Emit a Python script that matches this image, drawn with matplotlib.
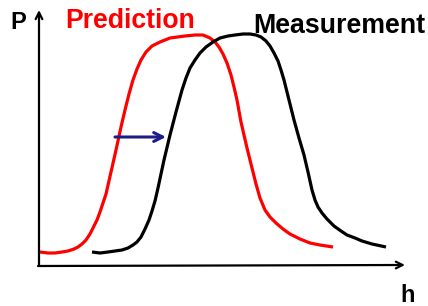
import matplotlib.pyplot as plt

# curve, in pixel units (y grows downward)
pred_h = [40, 48, 55, 62, 68, 74, 78, 82, 86, 90, 93, 97, 100, 103, 106, 111,
          116, 121, 125, 129, 133, 137, 141, 146, 152, 160, 170, 185, 195, 203,
          210, 215, 219, 223, 227, 231, 234, 237, 241, 247, 252, 256, 260, 265,
          270, 276, 283, 290, 300, 310, 320, 333]
pred_p = [252, 253, 253, 252, 251, 249, 247, 244, 240, 234, 228, 220, 212, 203,
          194, 172, 150, 127, 110, 94, 80, 69, 60, 52, 46, 42, 38, 36, 35, 35,
          38, 42, 47, 54, 63, 75, 87, 100, 122, 148, 168, 184, 198, 210,
          217, 223, 229, 234, 239, 243, 245, 247]

meas_h = [92, 100, 108, 115, 122, 128, 133, 137, 141, 145, 149, 152, 155, 158,
          161, 164, 170, 176, 182, 186, 190, 195, 200, 206, 213, 220, 228, 235,
          243, 250, 256, 261, 266, 270, 274, 278, 281, 284, 287, 290, 294, 299,
          304, 308, 312, 315, 318, 322, 327, 334, 341, 347, 355, 362, 372, 386]
meas_p = [252, 253, 252, 251, 250, 248, 245, 242, 237, 229, 220, 211, 201, 188,
          174, 160, 135, 112, 90, 78, 68, 60, 53, 47, 42, 38, 36, 35,
          34, 34, 35, 37, 41, 46, 53, 61, 70, 80, 92, 104, 120, 138,
          155, 172, 190, 200, 207, 213, 219, 226, 231, 235, 238, 241, 244, 247]

shift_start = (115, 137)
shift_end = (166, 137)

W, H = 428, 306

fig = plt.figure(figsize=(W / 100, H / 100), dpi=100)
ax = fig.add_axes([0, 0, 1, 1])
ax.set_xlim(0, W)
ax.set_ylim(H, 0)
ax.axis("off")

# axes arrows
ax.annotate("", xy=(39, 10), xytext=(39, 266),
            arrowprops=dict(arrowstyle="->", lw=1.6, color="black",
                            shrinkA=0, shrinkB=0, mutation_scale=12))
ax.annotate("", xy=(405, 265), xytext=(38, 266),
            arrowprops=dict(arrowstyle="->", lw=1.6, color="black",
                            shrinkA=0, shrinkB=0, mutation_scale=12))

ax.plot(pred_h, pred_p, color="#ff0000", lw=2.3, solid_capstyle="butt",
        solid_joinstyle="round")
ax.plot(meas_h, meas_p, color="black", lw=2.3, solid_capstyle="butt",
        solid_joinstyle="round")

ax.annotate("", xy=shift_end, xytext=shift_start,
            arrowprops=dict(arrowstyle="->", lw=2.2, color="#1c1c8c",
                            shrinkA=0, shrinkB=0, mutation_scale=16))

font = dict(family="Liberation Sans", fontweight="bold")
ax.text(10, 29, "P", fontsize=17, color="black", va="baseline", **font)
ax.text(65, 28, "Prediction", fontsize=19.2, color="#ff0000", va="baseline", **font)
ax.text(253, 33, "Measurement", fontsize=19.3, color="black", va="baseline", **font)
ax.text(400, 302, "h", fontsize=17, color="black", va="baseline", **font)

fig.savefig("out.png", dpi=100)
